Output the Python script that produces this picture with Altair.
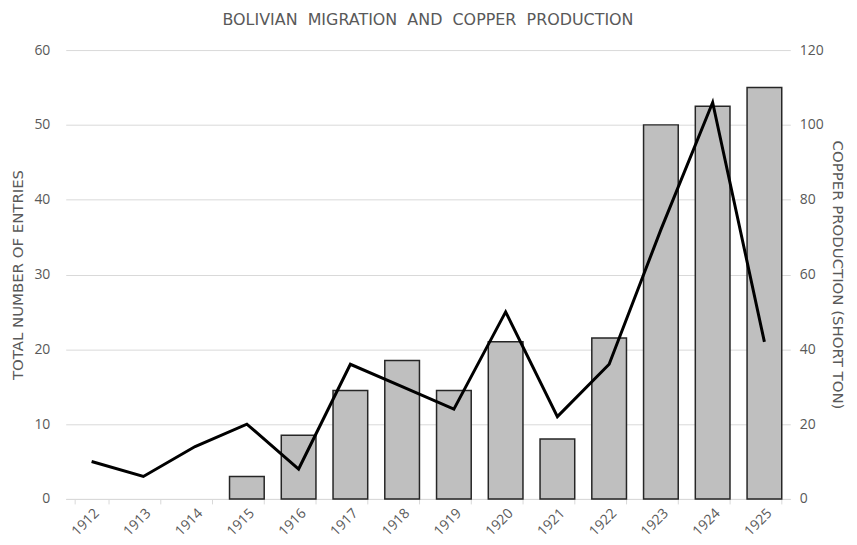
import altair as alt
import pandas as pd

years = [str(y) for y in range(1912, 1926)]
entries = [None, None, None, 3, 8.5, 14.5, 18.5, 14.5, 21, 8, 21.5, 50, 52.5, 55]
copper = [10, 6, 14, 20, 8, 36, 30, 24, 50, 22, 36, 72, 106, 42]

df = pd.DataFrame({"year": years, "entries": entries, "copper": copper})

FONT = "Open Sans"
TFONT = "DejaVu Sans"
GRAY = "#595959"
GRID = "#d9d9d9"

x = alt.X(
    "year:N", sort=years, title=None,
    scale=alt.Scale(paddingInner=0.33, paddingOuter=0.165),
    axis=alt.Axis(labelAngle=-45, tickBand="extent", tickColor=GRID, tickSize=5,
                  domainColor=GRID, labelColor=GRAY, labelFont=FONT, labelFontSize=14,
                  labelPadding=2, grid=False),
)

bars = alt.Chart(df).transform_filter("isValid(datum.entries)").mark_bar(
    color="#bfbfbf", stroke="#262626", strokeWidth=1.5
).encode(
    x=x,
    y=alt.Y("entries:Q", title="TOTAL NUMBER OF ENTRIES",
            scale=alt.Scale(domain=[0, 60]),
            axis=alt.Axis(values=list(range(0, 61, 10)), grid=True, gridColor=GRID,
                          ticks=False, domain=False, labelColor=GRAY, labelFont=FONT,
                          labelFontSize=14, labelPadding=16, titleColor=GRAY,
                          titleFont=TFONT, titleFontSize=15, titleFontWeight="normal",
                          titlePadding=8)),
)

line = alt.Chart(df).mark_line(color="black", strokeWidth=3).encode(
    x=x,
    y=alt.Y("copper:Q", title="COPPER PRODUCTION (SHORT TON)",
            scale=alt.Scale(domain=[0, 120]),
            axis=alt.Axis(orient="right", values=list(range(0, 121, 20)), grid=False,
                          ticks=False, domain=False, labelColor=GRAY, labelFont=FONT,
                          labelFontSize=14, labelPadding=9, titleColor=GRAY,
                          titleFont=TFONT, titleFontSize=15, titleFontWeight="normal",
                          titlePadding=6)),
)

chart = alt.layer(bars, line).resolve_scale(y="independent").properties(
    width=728, height=451,
    padding={"left": 2, "top": 3, "right": 4, "bottom": 0},
    title=alt.TitleParams("BOLIVIAN\u00a0 MIGRATION\u00a0 AND\u00a0 COPPER\u00a0 PRODUCTION",
                          font=TFONT, fontSize=16, fontWeight="normal", color=GRAY,
                          offset=15),
).configure_view(stroke=None)

chart.save("out.html", embed_options={"renderer": "svg", "actions": False})
